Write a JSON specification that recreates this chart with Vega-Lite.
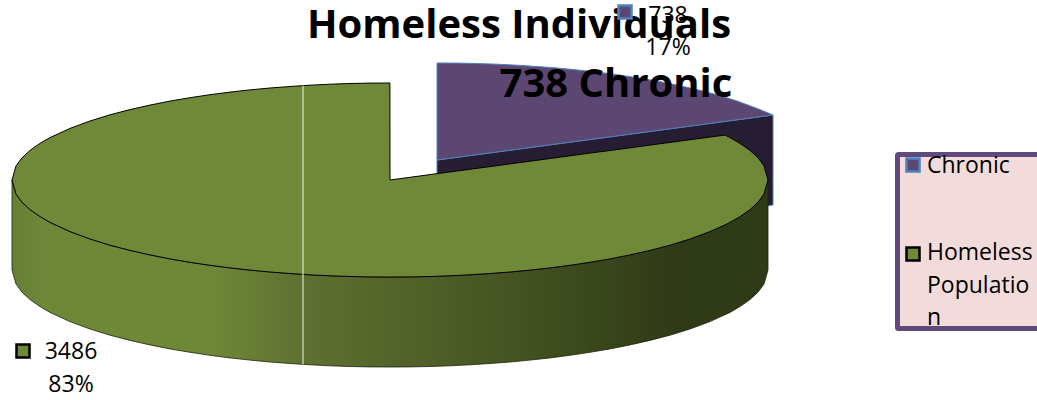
{
  "$schema": "https://vega.github.io/schema/vega-lite/v6.json",
  "width": 1037,
  "height": 400,
  "autosize": {"type": "fit", "contains": "padding"},
  "padding": 0,
  "background": "white",
  "view": {"stroke": null},
  "encoding": {
    "x": {"field": "x", "type": "quantitative", "axis": null, "scale": {"domain": [0, 1037], "nice": false, "zero": false}},
    "y": {"field": "y", "type": "quantitative", "axis": null, "scale": {"domain": [400, 0], "nice": false, "zero": false}}
  },
  "layer": [
    {
      "description": "Chronic slice, side wall",
      "data": {"values": [
        {"x": 437, "y": 160, "y2": 250},
        {"x": 773, "y": 115, "y2": 205}
      ]},
      "mark": {"type": "area", "fill": "#271d33", "stroke": "#4f81bd", "strokeWidth": 1},
      "encoding": {"y2": {"field": "y2"}}
    },
    {
      "description": "Chronic slice, top face",
      "data": {"values": [
        {"x": 437, "y": 63, "y2": 160},
        {"x": 457, "y": 63.1, "y2": 157.3},
        {"x": 477, "y": 63.5, "y2": 154.6},
        {"x": 497, "y": 64.2, "y2": 152},
        {"x": 517, "y": 65.2, "y2": 149.3},
        {"x": 537, "y": 66.5, "y2": 146.6},
        {"x": 557, "y": 68, "y2": 143.9},
        {"x": 577, "y": 69.9, "y2": 141.3},
        {"x": 597, "y": 72.1, "y2": 138.6},
        {"x": 617, "y": 74.7, "y2": 135.9},
        {"x": 637, "y": 77.7, "y2": 133.2},
        {"x": 657, "y": 81.1, "y2": 130.5},
        {"x": 677, "y": 85.1, "y2": 127.9},
        {"x": 697, "y": 89.6, "y2": 125.2},
        {"x": 717, "y": 94.8, "y2": 122.5},
        {"x": 737, "y": 101, "y2": 119.8},
        {"x": 757, "y": 108.4, "y2": 117.1},
        {"x": 773, "y": 115, "y2": 115}
      ]},
      "mark": {"type": "area", "fill": "#5c4672", "stroke": "#4f81bd", "strokeWidth": 1},
      "encoding": {"y2": {"field": "y2"}}
    },
    {
      "description": "Homeless Population slice, curved side wall",
      "data": {"values": [
        {"x": 12, "y": 180, "y2": 270},
        {"x": 16, "y": 194.1, "y2": 284.1},
        {"x": 22, "y": 202.2, "y2": 292.2},
        {"x": 30, "y": 209.6, "y2": 299.6},
        {"x": 40, "y": 216.6, "y2": 306.6},
        {"x": 50, "y": 222.4, "y2": 312.4},
        {"x": 70, "y": 231.6, "y2": 321.6},
        {"x": 90, "y": 239, "y2": 329},
        {"x": 110, "y": 245.2, "y2": 335.2},
        {"x": 130, "y": 250.4, "y2": 340.4},
        {"x": 150, "y": 254.9, "y2": 344.9},
        {"x": 170, "y": 258.9, "y2": 348.9},
        {"x": 190, "y": 262.3, "y2": 352.3},
        {"x": 210, "y": 265.3, "y2": 355.3},
        {"x": 230, "y": 267.9, "y2": 357.9},
        {"x": 250, "y": 270.1, "y2": 360.1},
        {"x": 270, "y": 272, "y2": 362},
        {"x": 290, "y": 273.5, "y2": 363.5},
        {"x": 310, "y": 274.8, "y2": 364.8},
        {"x": 330, "y": 275.8, "y2": 365.8},
        {"x": 350, "y": 276.5, "y2": 366.5},
        {"x": 370, "y": 276.9, "y2": 366.9},
        {"x": 390, "y": 277, "y2": 367},
        {"x": 410, "y": 276.9, "y2": 366.9},
        {"x": 430, "y": 276.5, "y2": 366.5},
        {"x": 450, "y": 275.8, "y2": 365.8},
        {"x": 470, "y": 274.8, "y2": 364.8},
        {"x": 490, "y": 273.5, "y2": 363.5},
        {"x": 510, "y": 272, "y2": 362},
        {"x": 530, "y": 270.1, "y2": 360.1},
        {"x": 550, "y": 267.9, "y2": 357.9},
        {"x": 570, "y": 265.3, "y2": 355.3},
        {"x": 590, "y": 262.3, "y2": 352.3},
        {"x": 610, "y": 258.9, "y2": 348.9},
        {"x": 630, "y": 254.9, "y2": 344.9},
        {"x": 650, "y": 250.4, "y2": 340.4},
        {"x": 670, "y": 245.2, "y2": 335.2},
        {"x": 690, "y": 239, "y2": 329},
        {"x": 710, "y": 231.6, "y2": 321.6},
        {"x": 730, "y": 222.4, "y2": 312.4},
        {"x": 740, "y": 216.6, "y2": 306.6},
        {"x": 750, "y": 209.6, "y2": 299.6},
        {"x": 758, "y": 202.2, "y2": 292.2},
        {"x": 764, "y": 194.1, "y2": 284.1},
        {"x": 768, "y": 180, "y2": 270}
      ]},
      "mark": {
        "type": "area",
        "stroke": "#1c2209",
        "strokeWidth": 0.8,
        "fill": {
          "x1": 0, "y1": 0, "x2": 1, "y2": 0,
          "gradient": "linear",
          "stops": [
            {"offset": 0, "color": "#677f35"},
            {"offset": 0.05, "color": "#6f8838"},
            {"offset": 0.26, "color": "#6f8838"},
            {"offset": 0.39, "color": "#5e7030"},
            {"offset": 0.65, "color": "#465522"},
            {"offset": 0.88, "color": "#2f3a16"},
            {"offset": 1, "color": "#2f3a16"}
          ]
        }
      },
      "encoding": {"y2": {"field": "y2"}}
    },
    {
      "description": "Homeless Population slice, top face with the wedge cut out",
      "data": {"values": [
        {"x": 12, "y": 180, "y2": 180},
        {"x": 16, "y": 165.9, "y2": 194.1},
        {"x": 22, "y": 157.8, "y2": 202.2},
        {"x": 30, "y": 150.4, "y2": 209.6},
        {"x": 40, "y": 143.4, "y2": 216.6},
        {"x": 50, "y": 137.6, "y2": 222.4},
        {"x": 70, "y": 128.4, "y2": 231.6},
        {"x": 90, "y": 121, "y2": 239},
        {"x": 110, "y": 114.8, "y2": 245.2},
        {"x": 130, "y": 109.6, "y2": 250.4},
        {"x": 150, "y": 105.1, "y2": 254.9},
        {"x": 170, "y": 101.1, "y2": 258.9},
        {"x": 190, "y": 97.7, "y2": 262.3},
        {"x": 210, "y": 94.7, "y2": 265.3},
        {"x": 230, "y": 92.1, "y2": 267.9},
        {"x": 250, "y": 89.9, "y2": 270.1},
        {"x": 270, "y": 88, "y2": 272},
        {"x": 290, "y": 86.5, "y2": 273.5},
        {"x": 310, "y": 85.2, "y2": 274.8},
        {"x": 330, "y": 84.2, "y2": 275.8},
        {"x": 350, "y": 83.5, "y2": 276.5},
        {"x": 370, "y": 83.1, "y2": 276.9},
        {"x": 389.9, "y": 83, "y2": 277},
        {"x": 390, "y": 180, "y2": 277},
        {"x": 410, "y": 177.3, "y2": 276.9},
        {"x": 430, "y": 174.6, "y2": 276.5},
        {"x": 450, "y": 171.9, "y2": 275.8},
        {"x": 470, "y": 169.3, "y2": 274.8},
        {"x": 490, "y": 166.6, "y2": 273.5},
        {"x": 510, "y": 163.9, "y2": 272},
        {"x": 530, "y": 161.2, "y2": 270.1},
        {"x": 550, "y": 158.5, "y2": 267.9},
        {"x": 570, "y": 155.8, "y2": 265.3},
        {"x": 590, "y": 153.1, "y2": 262.3},
        {"x": 610, "y": 150.5, "y2": 258.9},
        {"x": 630, "y": 147.8, "y2": 254.9},
        {"x": 650, "y": 145.1, "y2": 250.4},
        {"x": 670, "y": 142.4, "y2": 245.2},
        {"x": 690, "y": 139.7, "y2": 239},
        {"x": 710, "y": 137, "y2": 231.6},
        {"x": 725, "y": 135.1, "y2": 224.9},
        {"x": 730, "y": 137.6, "y2": 222.4},
        {"x": 740, "y": 143.4, "y2": 216.6},
        {"x": 750, "y": 150.4, "y2": 209.6},
        {"x": 758, "y": 157.8, "y2": 202.2},
        {"x": 764, "y": 165.9, "y2": 194.1},
        {"x": 768, "y": 180, "y2": 180}
      ]},
      "mark": {"type": "area", "fill": "#708938", "stroke": "#000000", "strokeWidth": 1},
      "encoding": {"y2": {"field": "y2"}}
    },
    {
      "description": "Pale seam across the green slice",
      "data": {"values": [{"x": 303, "y": 85.6, "y2": 364.5}]},
      "mark": {"type": "rule", "stroke": "#f4f4d8", "strokeWidth": 1},
      "encoding": {"y2": {"field": "y2"}}
    },
    {
      "description": "Legend panel, running past the right edge",
      "data": {"values": [{"x": 897.5, "x2": 1060, "y": 154.5, "y2": 328.5}]},
      "mark": {"type": "rect", "fill": "#f2dcdb", "stroke": "#604a7b", "strokeWidth": 5, "cornerRadius": 1, "clip": true},
      "encoding": {"x2": {"field": "x2"}, "y2": {"field": "y2"}}
    },
    {
      "description": "Chart title",
      "data": {"values": [
        {"x": 519, "y": 26, "text": "Homeless Individuals"},
        {"x": 616, "y": 85, "text": "738 Chronic"}
      ]},
      "mark": {"type": "text", "font": "Open Sans", "fontWeight": "bold", "fontSize": 40, "align": "center", "baseline": "middle", "fill": "#000000"},
      "encoding": {"text": {"field": "text"}}
    },
    {
      "description": "Swatches in the legend and beside the data labels",
      "data": {"values": [
        {"category": "Chronic", "x": 625, "y": 12},
        {"category": "Chronic", "x": 913, "y": 165},
        {"category": "Homeless Population", "x": 23, "y": 351},
        {"category": "Homeless Population", "x": 913, "y": 254}
      ]},
      "mark": {"type": "point", "shape": "square", "filled": true, "size": 170, "strokeWidth": 2.5, "opacity": 1},
      "encoding": {
        "fill": {"field": "category", "type": "nominal", "legend": null, "scale": {"domain": ["Chronic", "Homeless Population"], "range": ["#5c4672", "#708938"]}},
        "stroke": {"field": "category", "type": "nominal", "legend": null, "scale": {"domain": ["Chronic", "Homeless Population"], "range": ["#4f81bd", "#000000"]}}
      }
    },
    {
      "description": "Data labels: count and share for each slice",
      "data": {"values": [
        {"x": 668, "y": 16, "text": "738"},
        {"x": 668, "y": 48, "text": "17%"},
        {"x": 71, "y": 352, "text": "3486"},
        {"x": 71, "y": 385, "text": "83%"}
      ]},
      "mark": {"type": "text", "font": "Open Sans", "fontSize": 23, "align": "center", "baseline": "middle", "fill": "#000000"},
      "encoding": {"text": {"field": "text"}}
    },
    {
      "description": "Legend entries, wrapped inside the panel",
      "data": {"values": [
        {"x": 927, "y": 166, "text": "Chronic"},
        {"x": 927, "y": 253, "text": "Homeless"},
        {"x": 927, "y": 286, "text": "Populatio"},
        {"x": 927, "y": 318, "text": "n"}
      ]},
      "mark": {"type": "text", "font": "Open Sans", "fontSize": 23, "align": "left", "baseline": "middle", "fill": "#000000"},
      "encoding": {"text": {"field": "text"}}
    }
  ]
}
